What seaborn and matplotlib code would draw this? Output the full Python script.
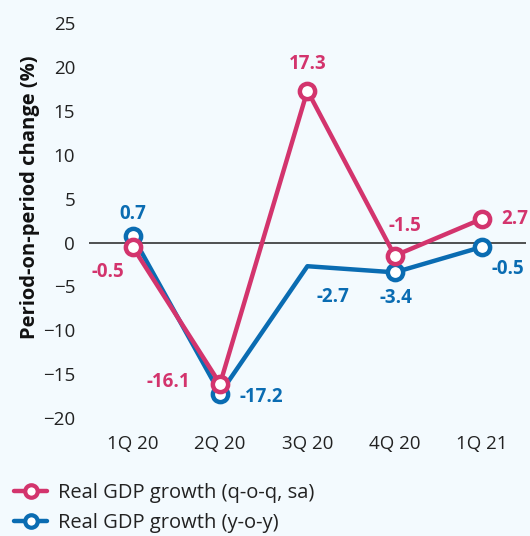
import matplotlib
matplotlib.use('Agg')
import matplotlib.pyplot as plt
from matplotlib.lines import Line2D
import seaborn as sns
import pandas as pd

# Data
quarters = ['1Q 20', '2Q 20', '3Q 20', '4Q 20', '1Q 21']
qoq = [-0.5, -16.1, 17.3, -1.5, 2.7]
yoy = [0.7, -17.2, -2.7, -3.4, -0.5]
yoy_marker = [True, True, False, True, True]

pink = '#D3346D'
blue = '#0A6CB2'
bg = '#F3FAFE'

sns.set_theme(style='white')
plt.rcParams['font.family'] = ['Open Sans', 'DejaVu Sans']

df = pd.DataFrame({'quarter': quarters * 2,
                   'value': qoq + yoy,
                   'series': ['qoq'] * 5 + ['yoy'] * 5})
df['pos'] = list(range(5)) * 2

fig = plt.figure(figsize=(5.3, 5.36), dpi=100, facecolor=bg)
ax = fig.add_axes([0.168, 0.22, 0.824, 0.737])
ax.set_facecolor(bg)

ax.axhline(0, color='#222222', lw=1.1, zorder=1)

sns.lineplot(data=df, x='pos', y='value', hue='series',
             palette={'qoq': pink, 'yoy': blue}, hue_order=['yoy', 'qoq'],
             lw=3.2, legend=False, ax=ax, zorder=2)

# markers (y-o-y has none at 3Q 20)
for i, v in enumerate(yoy):
    if yoy_marker[i]:
        ax.plot(i, v, 'o', ms=11, mfc='white', mec=blue, mew=3.2, zorder=3)
for i, v in enumerate(qoq):
    ax.plot(i, v, 'o', ms=11, mfc='white', mec=pink, mew=3.2, zorder=4)

# data labels
lab = dict(fontsize=13.5, fontweight='bold', ha='center', va='center')
qoq_off = [(-0.29, -2.9), (-0.59, 0.2), (0, 3.0), (0.12, 3.4), (0.38, 0.0)]
yoy_off = [(0, 2.5), (0.47, -0.45), (0.29, -3.55), (0.01, -2.9), (0.3, -2.5)]
for i, v in enumerate(qoq):
    dx, dy = qoq_off[i]
    ax.text(i + dx, v + dy, f'{v:g}', color=pink, **lab)
for i, v in enumerate(yoy):
    dx, dy = yoy_off[i]
    ax.text(i + dx, v + dy, f'{v:g}', color=blue, **lab)

ax.set_xlim(-0.5, 4.5)
ax.set_ylim(-20, 25)
ax.set_yticks(range(-20, 30, 5))
ax.set_xticks(range(5))
ax.set_xticklabels(quarters)
ax.tick_params(axis='both', length=0, labelsize=13.5, colors='#222222')
ax.tick_params(axis='y', pad=10)
ax.tick_params(axis='x', pad=12)
sns.despine(ax=ax, left=True, bottom=True)

ax.set_xlabel('')
ax.set_ylabel('Period-on-period change (%)', fontsize=14.5, fontweight='bold',
              color='#111111')
ax.yaxis.set_label_coords(-0.112, 0.56)

handles = [Line2D([], [], color=pink, lw=3.2, marker='o', ms=9, mfc='white',
                  mec=pink, mew=3.0),
           Line2D([], [], color=blue, lw=3.2, marker='o', ms=9, mfc='white',
                  mec=blue, mew=3.0)]
fig.legend(handles, ['Real GDP growth (q-o-q, sa)', 'Real GDP growth (y-o-y)'],
           loc='upper left', bbox_to_anchor=(0.012, 0.113), frameon=False,
           fontsize=14.5, handlelength=1.6, labelspacing=0.45,
           handletextpad=0.55, borderaxespad=0, labelcolor='#222222')

fig.savefig('out.png', dpi=100, facecolor=bg)
